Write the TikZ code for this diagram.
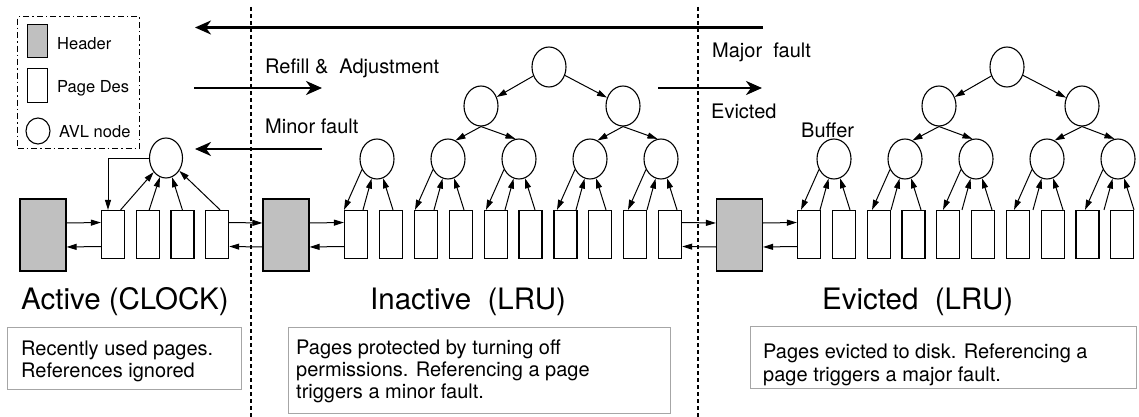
\documentclass[tikz,border=0pt]{standalone}
\usepackage{fontspec}
\setmainfont{TeX Gyre Heros}
\usetikzlibrary{shapes.geometric,arrows.meta,calc}
\definecolor{hgray}{HTML}{C0C0C0}
\definecolor{bgray}{HTML}{A6A6A6}
\begin{document}
\begin{tikzpicture}[x=1pt,y=-1pt,
  hdr/.style={draw,line width=1.2pt,fill=hgray,minimum width=46pt,minimum height=72pt,inner sep=0pt},
  pg/.style={draw,line width=1.2pt,fill=white,minimum width=23pt,minimum height=48pt,inner sep=0pt},
  avl/.style={draw,ellipse,line width=1.1pt,fill=white,minimum width=34pt,minimum height=40pt,inner sep=0pt},
  sa/.style={line width=1pt,-{Triangle[length=10pt,width=6pt]}},
  ba/.style={line width=2.6pt,-{Stealth[length=16pt,width=14pt,inset=5pt]}},
  lbl/.style={anchor=base west,inner sep=0pt,font=\fontsize{20}{24}\selectfont},
  ttl/.style={anchor=base west,inner sep=0pt,font=\fontsize{29.5}{34}\selectfont},
  dtxt/.style={anchor=north west,inner sep=0pt,align=left,font=\fontsize{20}{22}\selectfont},
  dbox/.style={draw=bgray,line width=1pt,anchor=north west,inner sep=0pt},
  sepline/.style={line width=1.2pt,dash pattern=on 4pt off 3pt},
  legline/.style={line width=1.2pt,dash pattern=on 6pt off 3pt on 1.5pt off 3pt},
  ltxt/.style={anchor=base west,inner sep=0pt,font=\fontsize{16.5}{20}\selectfont}
]
\useasboundingbox (0,0) rectangle (1139,417);

% separators
\coordinate (s1t) at (251,7); \coordinate (s1b) at (251,417);
\coordinate (s2t) at (698,7); \coordinate (s2b) at (698,417);
\draw[sepline] (s1t) -- (s1b);
\draw[sepline] (s2t) -- (s2b);

% legend
\node[draw,legline,minimum width=122pt,minimum height=132pt,anchor=north west,inner sep=0pt] (legend) at (17,16) {};
\node[draw,line width=1.2pt,fill=hgray,minimum width=20pt,minimum height=33pt,inner sep=0pt,anchor=north west] (lh) at (27,24) {};
\node[draw,line width=1.2pt,minimum width=20pt,minimum height=34pt,inner sep=0pt,anchor=north west] (lp) at (27,68) {};
\node[draw,ellipse,line width=1.1pt,minimum width=24pt,minimum height=26pt,inner sep=0pt] (lc) at (38,131) {};
\node[ltxt] (lht) at (57,50) {Header};
\node[ltxt] (lpt) at (57,93) {Page Des};
\node[ltxt] (lct) at (59,137) {AVL node};

% big arrows
\coordinate (ta) at (763,27.5); \coordinate (tb) at (195,27.5);
\draw[ba] (ta) -- (tb);
\coordinate (ra) at (194,88); \coordinate (rb) at (322,88);
\draw[ba] (ra) -- (rb);
\coordinate (ma) at (322,149); \coordinate (mb) at (195,149);
\draw[ba] (ma) -- (mb);
\coordinate (ea) at (658,88); \coordinate (eb) at (762,88);
\draw[ba] (ea) -- (eb);
\node[lbl] (lref) at (265,74) {Refill \&\ \ Adjustment};
\node[lbl] (lmin) at (265,133) {Minor fault};
\node[lbl] (lmaj) at (712,58) {Major\ \ fault};
\node[lbl] (lev) at (711,118.5) {Evicted};
\node[lbl] (lbuf) at (801,137) {Buffer};

% active
\node[hdr] (ah) at (43,235) {};
\foreach \i/\x in {1/113,2/147.7,3/182.4,4/217.1} \node[pg] (a\i) at (\x,234.5) {};
\node[avl,minimum width=33pt] (ac) at (166,158) {};

% inactive
\node[hdr] (ih) at (286,235) {};
\foreach \i in {1,...,10} \node[pg] (i\i) at ({356+34.9*(\i-1)},234.5) {};
\foreach \k/\x in {1/377,2/448,3/519,4/590,5/661} \node[avl] (ic\k) at (\x,159) {};
\node[avl] (im1) at (481,106) {};
\node[avl] (im2) at (623,106) {};
\node[avl] (ir) at (549,67) {};

% evicted
\node[hdr] (eh) at (739.5,235) {};
\foreach \i in {1,...,10} \node[pg] (e\i) at ({809+34.8*(\i-1)},234.5) {};
\foreach \k/\x in {1/834,2/905,3/976,4/1047,5/1118} \node[avl] (ec\k) at (\x,159) {};
\node[avl] (em1) at (939,106) {};
\node[avl] (em2) at (1082,106) {};
\node[avl] (er) at (1007,67) {};

% chain arrows
\foreach \p/\q in {ah/a1,a4/ih,ih/i1,i10/eh,eh/e1} {
  \draw[sa] ([yshift=12pt]\p.east) -- ([yshift=12pt]\q.west);
  \draw[sa] ([yshift=-12pt]\q.west) -- ([yshift=-12pt]\p.east);
}

% active circle connections
\draw[sa] (ac.west) -| ($(a1.north)+(-5,0)$);
\draw[sa] ($(a1.north east)+(-4.5,0)$) -- (ac);
\draw[sa] ($(a2.north)+(1.5,0)$) -- (ac);
\draw[sa] (a3.north) -- (ac);
\draw[sa] ($(a4.north)+(3,0)$) -- (ac);

% leaf circles to pages
\foreach \t in {i,e} {
  \foreach \k in {1,...,5} {
    \pgfmathtruncatemacro{\l}{2*\k-1}
    \pgfmathtruncatemacro{\r}{2*\k}
    \draw[sa] (\t c\k.215) -- ($(\t c\k |- \t\l.north)+(-33,0)$);
    \draw[sa] ($(\t c\k |- \t\l.north)+(-14,0)$) -- (\t c\k);
    \draw[sa] ($(\t c\k |- \t\r.north)+(16,0)$) -- (\t c\k);
  }
  \draw[sa] (\t r) -- (\t m1);
  \draw[sa] (\t r) -- (\t m2);
  \draw[sa] (\t m1.south) -- (\t c2.68);
  \draw[sa] (\t m1.south) -- (\t c3.100);
  \draw[sa] (\t m2.south) -- (\t c4.68);
  \draw[sa] (\t m2.south) -- (\t c5.100);
}

% titles
\node[ttl] (at) at (21,309) {Active (CLOCK)};
\node[ttl] (it) at (370,309) {Inactive\ \ (LRU)};
\node[ttl] (et) at (822,309) {Evicted\ \ (LRU)};

% descriptions
\node[dbox,minimum width=234.5pt,minimum height=62pt] (adb) at (6.5,327) {};
\node[dtxt] (adt) at (21,340.6) {Recently used pages.\\References ignored};
\node[dbox,minimum width=382.5pt,minimum height=86pt] (idb) at (287.5,327) {};
\node[dtxt] (idt) at (296,339.6) {Pages protected by turning off\\permissions. Referencing a page\\triggers a minor fault.};
\node[dbox,minimum width=386pt,minimum height=62pt] (edb) at (750,326) {};
\node[dtxt,font=\fontsize{20}{23}\selectfont] (edt) at (763,343.6) {Pages evicted to disk. Referencing a\\page triggers a major fault.};
\end{tikzpicture}
\end{document}
